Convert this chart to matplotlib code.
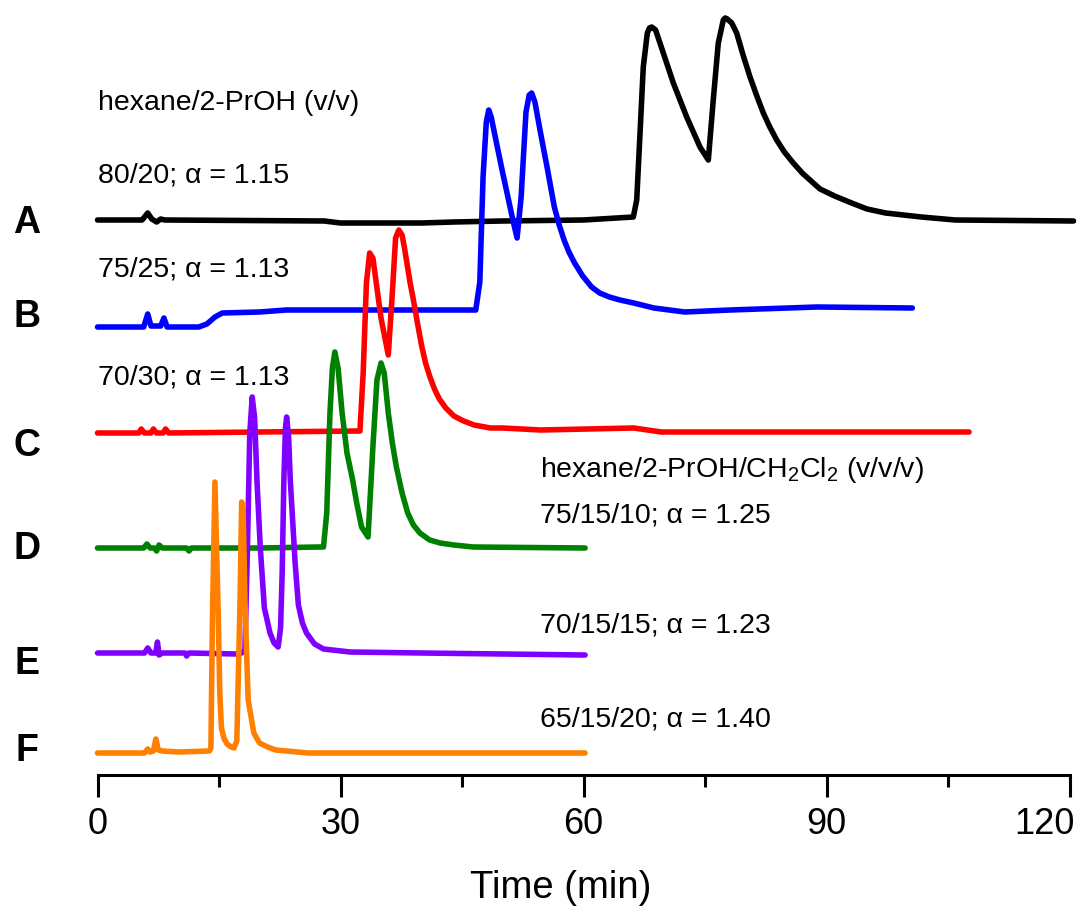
import matplotlib
matplotlib.use('Agg')
import matplotlib.pyplot as plt
from matplotlib.ticker import MultipleLocator

plt.rcParams['font.family'] = ['Liberation Sans', 'DejaVu Sans']
plt.rcParams['mathtext.default'] = 'regular'

# detector signal, arbitrary units above each trace's own baseline
time_a = [0, 5.5, 6.2, 6.7, 7.3, 7.8, 8.3, 28, 30, 40, 44, 50, 60, 66.15, 66.57, 66.98, 67.38,
          67.88, 68.15, 68.42, 68.9, 69.44, 71.09, 72.74, 74.38, 75.41, 76.02, 76.64, 77.26,
          77.5, 77.75, 78.3, 78.91, 79.7, 80.56, 81.4, 82.2, 83.0, 83.85, 84.8, 85.9, 87.0,
          87.96, 89.2, 91.0, 93.1, 95.0, 97.3, 99.5, 101.7, 105.9, 120.5]
sig_a = [0, 0, 7, 1, -2, 1, 0, -1, -3, -3, -2, -1, 0, 3, 20, 87, 153,
         187, 192, 193, 190, 177, 137, 103, 73, 60, 120, 177, 200,
         202, 201, 197, 187, 165, 143, 124, 107, 93, 80, 68, 57, 47,
         40, 31, 24, 17, 11, 7, 5, 3, 0, -1]

time_b = [0, 5.7, 6.2, 6.6, 7.8, 8.2, 8.6, 12.5, 13.5, 14.5, 15.4, 20, 23.3, 30, 40, 46.7, 47.2,
          47.6, 48.0, 48.3, 48.6, 50.0, 51.2, 51.8, 52.3, 52.9, 53.3, 53.6, 54.0, 54.7, 55.5,
          56.4, 57.0, 57.6, 58.2, 58.9, 59.9, 61.0, 62.0, 63.2, 64.5, 66.2, 68.7, 72.5, 78.1,
          88.8, 100.6]
sig_b = [0, 0, 13, 1, 1, 9, 0, 0, 3, 10, 14, 15, 17, 17, 17, 17, 45,
         150, 205, 217, 210, 155, 110, 89, 130, 215, 232, 234, 225, 194, 160,
         120, 102, 87, 75, 64, 51, 40, 34, 30, 27, 24, 19, 15, 17,
         20, 19]

time_c = [0, 5.1, 5.4, 5.8, 6.6, 6.9, 7.3, 8.1, 8.4, 8.8, 20, 32.4, 32.8, 33.2, 33.6, 34.0, 35.0,
          35.9, 36.4, 36.8, 37.2, 37.6, 37.9, 38.3, 38.6, 39.0, 39.5, 40.0, 40.5, 41.0, 41.6,
          42.2, 43.0, 44.0, 45.2, 46.5, 48.5, 50, 54.7, 66.2, 69.6, 107.6]
sig_c = [0, 0, 4, 0, 0, 4, 0, 0, 4, 0, 1, 2, 60, 150, 180, 175, 115,
         78, 140, 195, 203, 198, 185, 165, 150, 133, 110, 88, 70, 57, 44,
         34, 25, 17, 12, 8, 5, 5, 3, 5, 1, 1]

time_d = [0, 5.7, 6.1, 6.5, 7.0, 7.3, 7.6, 8.0, 11.0, 11.3, 11.6, 20, 27.3, 27.9, 28.3, 28.7, 29.0,
          29.3, 29.7, 30.2, 30.8, 31.5, 32.0, 32.6, 33.4, 34.0, 34.5, 35.0, 35.4, 35.9, 36.4,
          36.9, 37.6, 38.3, 39.0, 39.8, 41.0, 42.3, 44.0, 46.4, 60.2]
sig_d = [0, 0, 4, 0, 0, -3, 3, 0, 0, -3, 0, 0, 1, 1, 35, 135, 180,
         196, 180, 135, 95, 68, 45, 21, 11, 101, 168, 185, 175, 135, 105,
         81, 55, 35, 23, 15, 8, 5, 3, 1, 0]

time_e = [0, 5.8, 6.2, 6.6, 7.2, 7.4, 7.6, 8.0, 10.8, 11.0, 11.3, 17.2, 17.8, 18.2, 18.5, 18.8,
          19.1, 19.4, 19.7, 20.1, 20.6, 21.3, 21.8, 22.3, 22.6, 22.8, 23.0, 23.2, 23.35, 23.6,
          23.8, 24.4, 24.8, 25.3, 25.8, 26.8, 27.9, 31.2, 40, 60.2]
sig_e = [0, 0, 5, 0, 0, 11, -2, 0, 0, -3, 0, -1, 0, 3, 100, 220,
         256, 235, 170, 105, 45, 20, 10, 6, 25, 80, 170, 225, 236, 215,
         173, 90, 48, 30, 20, 9, 4, 1, 0, -2]

time_f = [0, 5.8, 6.2, 6.5, 6.9, 7.2, 7.5, 8.0, 10, 13.8, 14.0, 14.2, 14.5, 14.9, 15.1, 15.3,
          15.6, 16.0, 16.5, 16.85, 17.2, 17.45, 17.6, 17.8, 18.0, 18.2, 18.6, 19.3, 20.0, 21.0,
          22, 26, 60.2]
sig_f = [0, 0, 4, 1, 2, 14, 3, 2, 1, 2, 5, 140, 271, 140, 60, 25,
         15, 9, 6, 5, 12, 100, 153, 251, 235, 153, 53, 20, 10, 6,
         3, 0, 0]

traces = [(time_a, sig_a), (time_b, sig_b), (time_c, sig_c),
          (time_d, sig_d), (time_e, sig_e), (time_f, sig_f)]
trace_labels = ['A', 'B', 'C', 'D', 'E', 'F']
conditions = ['80/20; α = 1.15', '75/25; α = 1.13', '70/30; α = 1.13',
              '75/15/10; α = 1.25', '70/15/15; α = 1.23', '65/15/20; α = 1.40']
headers = ['hexane/2-PrOH (v/v)', 'hexane/2-PrOH/CH$_2$Cl$_2$ (v/v/v)']
xtick_values = [0, 30, 60, 90, 120]
xtick_labels = ['0', '30', '60', '90', '120']

# layout: vertical stacking of the traces
baselines = [555, 448, 342, 227, 122, 22]
colors = ['black', '#0000ff', '#ff0000', '#008000', '#8000ff', '#ff8000']
label_y = [552, 458, 329, 226, 111, 24]
cond_pos = [(0, 592), (0, 499), (0, 391), (54.6, 253), (54.6, 143), (54.6, 48)]
header_pos = [(0, 665), (54.6, 298)]

fig = plt.figure(figsize=(10.83, 9.06), dpi=100)
ax = fig.add_axes([97.5 / 1083, 131 / 906, 972 / 1083, 775 / 906])

for (t, s), base, c in zip(traces, baselines, colors):
    ax.plot(t, [base + v for v in s], color=c, lw=4.0, solid_capstyle='round',
            solid_joinstyle='round', clip_on=False)

for lab, y in zip(trace_labels, label_y):
    ax.text(-8.7, y, lab, fontsize=27, fontweight='bold', ha='center', va='center')

for txt, (x, y) in zip(conditions, cond_pos):
    ax.text(x, y, txt, fontsize=20.5, ha='left', va='baseline')
for txt, (x, y) in zip(headers, header_pos):
    ax.text(x, y, txt, fontsize=20.5, ha='left', va='baseline')

ax.set_xlim(0, 120)
ax.set_ylim(0, 775)
for side in ['left', 'right', 'top']:
    ax.spines[side].set_visible(False)
ax.spines['bottom'].set_linewidth(2.2)
ax.set_yticks([])
# the last label sits right-aligned under its tick so it stays in the figure
ax.set_xticks(xtick_values, xtick_labels[:-1] + [''])
ax.text(xtick_values[-1] + 0.65, -0.041, xtick_labels[-1], transform=ax.get_xaxis_transform(),
        fontsize=26, ha='right', va='top')
ax.xaxis.set_minor_locator(MultipleLocator(15))
ax.tick_params(axis='x', which='major', direction='out', length=16, width=2.2,
               labelsize=26, pad=7)
ax.tick_params(axis='x', which='minor', direction='out', length=8.5, width=2.2)
ax.set_xlabel('Time (min)', fontsize=27.5)
ax.xaxis.set_label_coords(0.4767, -0.122)

fig.savefig('out.png', dpi=100)
